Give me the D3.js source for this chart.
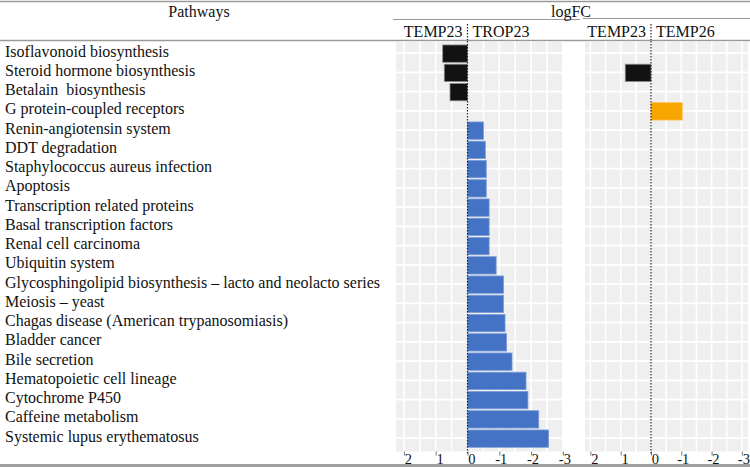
<!DOCTYPE html>
<html><head><meta charset="utf-8">
<script src="https://cdn.jsdelivr.net/npm/d3@7"></script>
<style>
html,body{margin:0;padding:0;background:#fff;}
svg{display:block;font-family:"Liberation Serif","Times New Roman",serif;}
</style></head>
<body><svg id="chart" width="750" height="467"></svg>
<script>
const pathways = [
  "Isoflavonoid biosynthesis",
  "Steroid hormone biosynthesis",
  "Betalain  biosynthesis",
  "G protein-coupled receptors",
  "Renin-angiotensin system",
  "DDT degradation",
  "Staphylococcus aureus infection",
  "Apoptosis",
  "Transcription related proteins",
  "Basal transcription factors",
  "Renal cell carcinoma",
  "Ubiquitin system",
  "Glycosphingolipid biosynthesis \u2013 lacto and neolacto series",
  "Meiosis \u2013 yeast",
  "Chagas disease (American trypanosomiasis)",
  "Bladder cancer",
  "Bile secretion",
  "Hematopoietic cell lineage",
  "Cytochrome P450",
  "Caffeine metabolism",
  "Systemic lupus erythematosus"
];
const temp23VsTrop23 = [0.78, 0.73, 0.55, null, -0.50, -0.56, -0.59, -0.59, -0.68, -0.68, -0.68,
  -0.90, -1.13, -1.13, -1.18, -1.23, -1.40, -1.84, -1.90, -2.24, -2.55];
const temp23VsTemp26 = [null, 0.85, null, -1.03, null, null, null, null, null, null, null,
  null, null, null, null, null, null, null, null, null, null];
const tickValues = [2, 1, 0, -1, -2, -3];
const tickLabels = ["2", "1", "0", "-1", "-2", "-3"];
const gridValues = [2, 1.5, 1, 0.5, 0, -0.5, -1, -1.5, -2, -2.5, -3];
const headerTitle = "Pathways";
const groupTitle = "logFC";

const svg = d3.select("#chart");
const W = 750, H = 467;

const y = d3.scaleBand().domain(pathways).range([44, 448.25]).paddingInner(0.1).paddingOuter(0.05);

const panels = [
  {values: temp23VsTrop23, left: "TEMP23", right: "TROP23", x: d3.scaleLinear().domain([2, -3]).range([403.9, 562.9]),
   gx: [396, 562.9], neg: "#4472C4", negStroke: "#7a9bd8"},
  {values: temp23VsTemp26, left: "TEMP23", right: "TEMP26", x: d3.scaleLinear().domain([2, -3]).range([590.4, 741.9]),
   gx: [585, 748], neg: "#F7A600", negStroke: "#ffc04a"}
];

// header lines
const lineCol = "#9a9a9a";
svg.append("line").attr("x1",0).attr("x2",W).attr("y1",1.5).attr("y2",1.5).attr("stroke",lineCol).attr("stroke-width",1.6);
svg.append("line").attr("x1",393).attr("x2",580).attr("y1",19.5).attr("y2",19.5).attr("stroke",lineCol).attr("stroke-width",1.2);
svg.append("line").attr("x1",583).attr("x2",W).attr("y1",18.5).attr("y2",18.5).attr("stroke",lineCol).attr("stroke-width",1.2);
svg.append("line").attr("x1",0).attr("x2",W).attr("y1",40.5).attr("y2",40.5).attr("stroke",lineCol).attr("stroke-width",1.4);
svg.append("rect").attr("x",0).attr("y",464).attr("width",W).attr("height",3).attr("fill","#a0a0a0");

svg.append("text").attr("x",199).attr("y",16.5).attr("text-anchor","middle").attr("font-size",16).attr("fill","#111").text(headerTitle);
svg.append("text").attr("x",571).attr("y",16.5).attr("text-anchor","middle").attr("font-size",16).attr("fill","#111").text(groupTitle);

// row labels
svg.append("g").selectAll("text").data(pathways).join("text")
  .attr("x",5).attr("y",d=>y(d)+y.bandwidth()/2+3)
  .attr("font-size",16).attr("fill","#111").style("white-space","pre").attr("xml:space","preserve")
  .text(d=>d);

const gridTop = 41.5, gridBottom = 451.5;
panels.forEach(p=>{
  const g = svg.append("g");
  const x0 = p.x(0);
  g.append("rect").attr("x",p.gx[0]).attr("y",gridTop).attr("width",p.gx[1]-p.gx[0]).attr("height",gridBottom-gridTop).attr("fill","#efefef");
  g.selectAll("line.v").data(gridValues).join("line").attr("class","v")
    .attr("x1",d=>p.x(d)).attr("x2",d=>p.x(d)).attr("y1",gridTop).attr("y2",gridBottom)
    .attr("stroke","#fff").attr("stroke-width",1.6);
  g.selectAll("line.h").data(pathways).join("line").attr("class","h")
    .attr("x1",p.gx[0]).attr("x2",p.gx[1])
    .attr("y1",d=>y(d)+y.bandwidth()/2-0.5).attr("y2",d=>y(d)+y.bandwidth()/2-0.5)
    .attr("stroke","#fff").attr("stroke-width",1.6);
  // bars
  const rows = pathways.map((k,i)=>({k, v:p.values[i]})).filter(d=>d.v!==null);
  g.selectAll("rect.bar").data(rows).join("rect").attr("class","bar")
    .attr("x",d=>Math.min(p.x(d.v),x0)).attr("width",d=>Math.abs(p.x(d.v)-x0))
    .attr("y",d=>y(d.k)).attr("height",y.bandwidth())
    .attr("fill",d=>d.v>0?"#121212":p.neg)
    .attr("stroke",d=>d.v>0?"#8a8a8a":p.negStroke).attr("stroke-width",0.8);
  // zero dotted line
  g.append("line").attr("x1",x0).attr("x2",x0).attr("y1",24).attr("y2",40)
    .attr("stroke","#222").attr("stroke-width",1.2).attr("stroke-dasharray","1.5,1.5");
  g.append("line").attr("x1",x0).attr("x2",x0).attr("y1",41).attr("y2",455)
    .attr("stroke","#222").attr("stroke-width",1.2).attr("stroke-dasharray","1.5,1.5");
  // subheader
  g.append("text").attr("x",x0-5).attr("y",36.5).attr("text-anchor","end").attr("font-size",16).attr("fill","#111").text(p.left);
  g.append("text").attr("x",x0+5).attr("y",36.5).attr("text-anchor","start").attr("font-size",16).attr("fill","#111").text(p.right);
  // axis
  const axis = d3.axisBottom(p.x).tickValues(tickValues).tickSize(4)
    .tickFormat((d,i)=>tickLabels[i]);
  const ag = g.append("g").attr("transform","translate(0,451.5)").call(axis);
  ag.select(".domain").remove();
  ag.selectAll(".tick line").attr("stroke","#555").attr("stroke-width",0.8);
  ag.selectAll(".tick text").attr("font-family","Liberation Serif").attr("font-size",14.5).attr("fill","#111")
    .attr("text-anchor","end").attr("x",7.5).attr("y",12.3).attr("dy",0);
});
</script></body></html>
